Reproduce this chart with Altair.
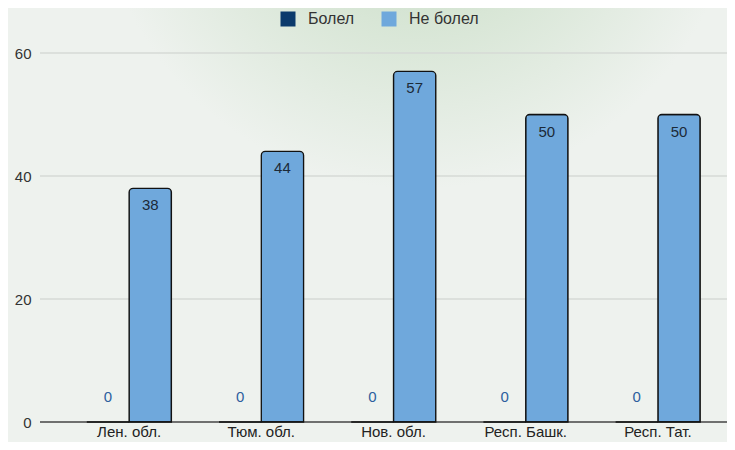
import altair as alt
import pandas as pd

regions = ["Лен. обл.", "Тюм. обл.", "Нов. обл.", "Респ. Башк.", "Респ. Тат."]
series = ["Болел", "Не болел"]
bolel = [0, 0, 0, 0, 0]
ne_bolel = [38, 44, 57, 50, 50]
y_ticks = [0, 20, 40, 60]
colors = ["#0b3a6c", "#6fa8dc"]

rows = []
for r, a, b in zip(regions, bolel, ne_bolel):
    rows.append({"region": r, "status": series[0], "value": a})
    rows.append({"region": r, "status": series[1], "value": b})
df = pd.DataFrame(rows)
grid_df = pd.DataFrame({"tick": y_ticks})

FONT = "Liberation Sans"

# decorative background glow (whole canvas)
bg = alt.Chart(pd.DataFrame({"k": [0]})).mark_rect(
    fill={"gradient": "radial", "x1": 0.57, "y1": 0.0, "x2": 0.57, "y2": 0.0,
          "r1": 0, "r2": 0.45,
          "stops": [{"offset": 0, "color": "#bfd6bd"},
                    {"offset": 0.5, "color": "#d8e6d6"},
                    {"offset": 1, "color": "#eef2ee"}]},
).encode(x=alt.value(-32), x2=alt.value(687), y=alt.value(-45), y2=alt.value(389))

y_scale = alt.Scale(domain=[0, 60], nice=False)

grid = alt.Chart(grid_df).mark_rule(strokeWidth=1.5).encode(
    y=alt.Y("tick:Q", scale=y_scale, title=None),
    x=alt.value(0), x2=alt.value(687),
    color=alt.condition(alt.datum.tick == 0, alt.value("#444444"), alt.value("#d6dad6")))

x_enc = alt.X("region:N", sort=regions, title=None,
              scale=alt.Scale(range=[23, 684], paddingInner=0.36, paddingOuter=0.18),
              axis=alt.Axis(labelAngle=0, ticks=False, domain=False, labelPadding=2,
                            labelBaseline="top", labelFontSize=15, labelColor="#222222",
                            labelFont=FONT, zindex=1))
xoff = alt.XOffset("status:N", sort=series)
y_enc = alt.Y("value:Q", title=None, scale=y_scale,
              axis=alt.Axis(values=y_ticks, domain=False, ticks=False, labelPadding=9,
                            labelFontSize=15, labelColor="#333333", grid=False,
                            labelFont=FONT, zindex=1))

base = alt.Chart(df)

bars = base.mark_bar(stroke="#111111", strokeWidth=1.3,
                     cornerRadiusTopLeft=4, cornerRadiusTopRight=4).encode(
    x=x_enc, xOffset=xoff, y=y_enc,
    strokeWidth=alt.condition(alt.datum.value == 0, alt.value(2.2), alt.value(1.3)),
    color=alt.Color("status:N", sort=series,
                    scale=alt.Scale(domain=series, range=colors),
                    legend=alt.Legend(title=None, orient="none", direction="horizontal",
                                      legendX=240, legendY=-42,
                                      symbolType="square", symbolSize=225,
                                      symbolStrokeWidth=0, labelFontSize=16,
                                      labelColor="#333333", labelFont=FONT,
                                      labelOffset=12, columnPadding=26, zindex=1)),
)

zero_text = base.transform_filter(alt.datum.status == "Болел").mark_text(
    dy=-25, fontSize=15, color="#2d5f9e", font=FONT).encode(
    x=alt.X("region:N", sort=regions), xOffset=xoff, y="value:Q", text="value:Q")

val_text = base.transform_filter(alt.datum.status == "Не болел").mark_text(
    dy=17, fontSize=15, color="#1c2a38", font=FONT).encode(
    x=alt.X("region:N", sort=regions), xOffset=xoff, y="value:Q", text="value:Q")

chart = alt.layer(bg, grid, bars, zero_text, val_text).properties(
    width=687, height=369,
    autosize=alt.AutoSizeParams(type="none"),
    padding={"left": 32, "top": 45, "right": 0, "bottom": 20},
    background="#eef2ee",
).configure_view(stroke=None).configure_scale(bandPaddingInner=0)

chart.save("out.html", embed_options={"renderer": "svg", "actions": False})
